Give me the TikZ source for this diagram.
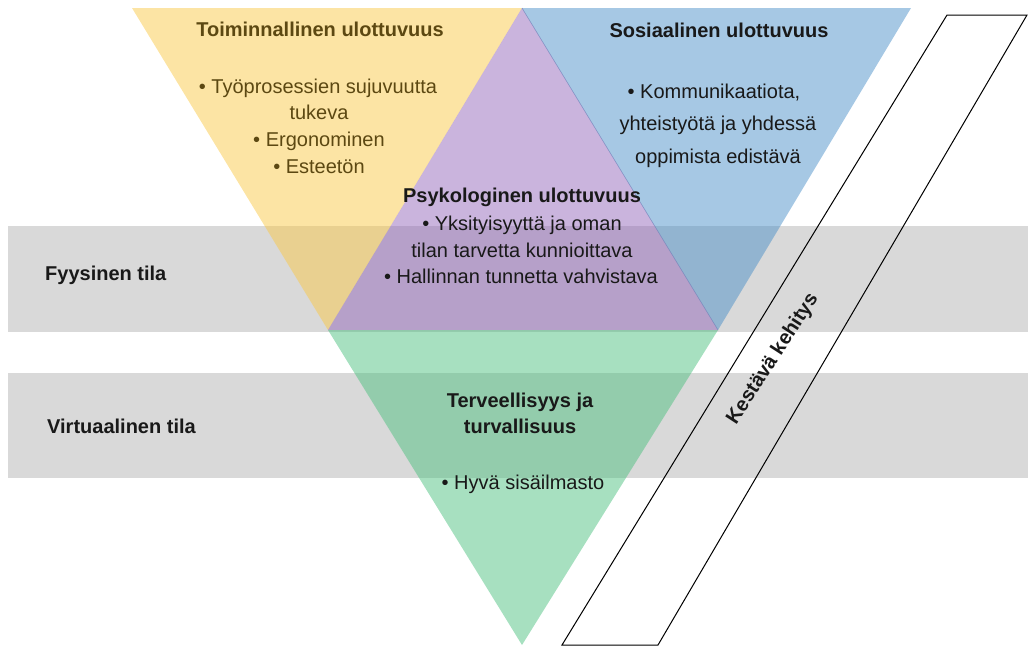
\documentclass[tikz,border=0pt]{standalone}
\usepackage{fontspec}
\setmainfont{Liberation Sans}
\definecolor{bandgray}{RGB}{217,217,217}
\definecolor{cyellow}{RGB}{249,201,73}
\definecolor{cblue}{RGB}{77,145,201}
\definecolor{cpurple}{RGB}{149,105,187}
\definecolor{cgreen}{RGB}{79,193,129}
\definecolor{brown}{RGB}{92,72,18}
\definecolor{dark}{RGB}{25,25,25}
\definecolor{edgeblue}{RGB}{110,130,185}
\begin{document}
\begin{tikzpicture}[x=1pt,y=-1pt,
  band/.style={fill=bandgray,draw=none},
  tri/.style={draw=none,fill opacity=0.5},
  body/.style={font=\fontsize{20}{24}\selectfont,inner sep=0pt,anchor=base,text=dark},
  ttl/.style={body,font=\fontsize{20}{24}\selectfont\bfseries},
  frame/.style={draw=black,line width=1pt,line join=miter}]
\useasboundingbox (0,0) rectangle (1028,646);
% bands
\fill[band] (8,226) rectangle (1028,332);
\fill[band] (8,373) rectangle (1028,478);
% triangle corners
\coordinate (tl) at (132,8);
\coordinate (tm) at (522,8);
\coordinate (tr) at (911,8);
\coordinate (ml) at (328,330);
\coordinate (mr) at (718,330);
\coordinate (bt) at (522,645);
\fill[tri,cyellow] (tl) -- (tm) -- (ml) -- cycle;
\fill[tri,cblue] (tm) -- (tr) -- (mr) -- cycle;
\fill[tri,cpurple] (tm) -- (ml) -- (mr) -- cycle;
\fill[tri,cgreen] (ml) -- (mr) -- (bt) -- cycle;
\draw[edgeblue,line width=0.6pt,opacity=0.7] (tm) -- (mr);
% band labels
\node[ttl,anchor=base west] (fyys) at (45,280) {Fyysinen tila};
\node[ttl,anchor=base west] (virt) at (47,433) {Virtuaalinen tila};
% yellow
\node[ttl,text=brown] (toim) at (320,36) {Toiminnallinen ulottuvuus};
\node[body,text=brown] (toim1) at (318,93) {• Työprosessien sujuvuutta};
\node[body,text=brown] (toim2) at (319,119) {tukeva};
\node[body,text=brown] (toim3) at (319,146) {• Ergonominen};
\node[body,text=brown] (toim4) at (319,173) {• Esteetön};
% blue
\node[ttl] (sos) at (719,37) {Sosiaalinen ulottuvuus};
\node[body] (sos1) at (714,98) {• Kommunikaatiota,};
\node[body] (sos2) at (718,130) {yhteistyötä ja yhdessä};
\node[body] (sos3) at (718,163) {oppimista edistävä};
% purple
\node[ttl] (psy) at (522,202) {Psykologinen ulottuvuus};
\node[body] (psy1) at (522,230) {• Yksityisyyttä ja oman};
\node[body] (psy2) at (522,257) {tilan tarvetta kunnioittava};
\node[body] (psy3) at (521,283) {• Hallinnan tunnetta vahvistava};
% green
\node[ttl] (ter1) at (520,407) {Terveellisyys ja};
\node[ttl] (ter2) at (520,433) {turvallisuus};
\node[body] (ter3) at (523,489) {• Hyvä sisäilmasto};
% sustainable development frame
\coordinate (pa) at (947,15);
\coordinate (pb) at (1027,15);
\coordinate (pc) at (658,645);
\coordinate (pd) at (562,645);
\draw[frame] (pa) -- (pb) -- (pc) -- (pd) -- cycle;
\node[ttl,anchor=center,rotate=57] (kest) at (773,359) {Kestävä kehitys};
\end{tikzpicture}
\end{document}
